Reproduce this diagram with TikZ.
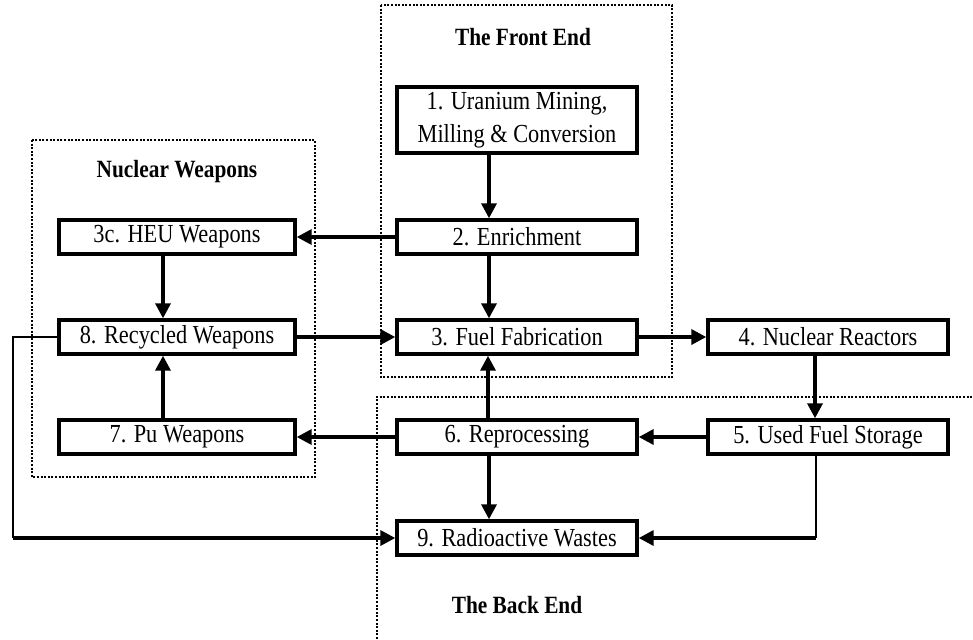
\documentclass[tikz,border=0pt]{standalone}
\usepackage{fontspec}
\setmainfont{Liberation Serif}[FakeStretch=0.86]
\usetikzlibrary{arrows.meta}

\begin{document}
\begin{tikzpicture}[x=0.5pt,y=-0.5pt,
  stage node/.style={draw,line width=1.7pt,minimum width=120pt,minimum height=17pt,
    inner sep=1pt,align=center,font=\fontsize{13}{16.5}\selectfont},
  group label/.style={font=\fontsize{12.4}{13}\selectfont\bfseries},
  flow/.style={line width=1.7pt,-{Triangle[length=7.5pt,width=7.5pt]}},
  thin link/.style={line width=0.8pt},
  zone/.style={line width=1pt,dash pattern=on 1pt off 0.8pt}]

  \useasboundingbox (0,0) rectangle (973,639);

  % dotted zones
  \draw[zone] (381,5) rectangle (672,377);
  \draw[zone] (32,140) rectangle (315,477);
  \draw[zone] (377,639) -- (377,397) -- (973,397);

  \node[group label] (front) at (523,37) {The Front End};
  \node[group label] (weap) at (177,172) {Nuclear Weapons};
  \node[group label] (back) at (517,605) {The Back End};

  % stages
  \node[stage node,minimum height=33pt] (1) at (517,120) {1. Uranium Mining,\\Milling \& Conversion};
  \node[stage node] (2) at (517,237) {2. Enrichment};
  \node[stage node] (3) at (517,337) {3. Fuel Fabrication};
  \node[stage node] (4) at (828,337) {4. Nuclear Reactors};
  \node[stage node] (5) at (828,437) {5. Used Fuel Storage};
  \node[stage node] (6) at (517,437) {6. Reprocessing};
  \node[stage node] (9) at (517,538) {9. Radioactive Wastes};
  \node[stage node,minimum width=118pt] (3c) at (177,237) {3c. HEU Weapons};
  \node[stage node,minimum width=118pt] (8) at (177,337) {8. Recycled Weapons};
  \node[stage node,minimum width=118pt] (7) at (177,437) {7. Pu Weapons};

  \coordinate (left turn) at (13,337);
  \coordinate (left low) at (13,538);
  \coordinate (right low) at (816,538);

  % material flows
  \draw[flow] ([xshift=-14pt]1.south) -- ([xshift=-14pt]2.north);
  \draw[flow] ([xshift=-14pt]2.south) -- ([xshift=-14pt]3.north);
  \draw[flow] (2) -- (3c);
  \draw[flow] ([xshift=-7pt]3c.south) -- ([xshift=-7pt]8.north);
  \draw[flow] ([xshift=-7pt]7.north) -- ([xshift=-7pt]8.south);
  \draw[flow] (8) -- (3);
  \draw[flow] (3) -- (4);
  \draw[flow] ([xshift=-6.5pt]4.south) -- ([xshift=-6.5pt]5.north);
  \draw[flow] (5) -- (6);
  \draw[flow] (6) -- (7);
  \draw[flow] ([xshift=-14.5pt]6.north) -- ([xshift=-14.5pt]3.south);
  \draw[flow] ([xshift=-14pt]6.south) -- ([xshift=-14pt]9.north);
  \draw[thin link] ([xshift=-6pt]5.south) -- (right low);
  \draw[flow] (right low) -- (9);
  \draw[thin link] (8) -- (left turn) -- (left low);
  \draw[flow] (left low) -- (9);
\end{tikzpicture}
\end{document}
